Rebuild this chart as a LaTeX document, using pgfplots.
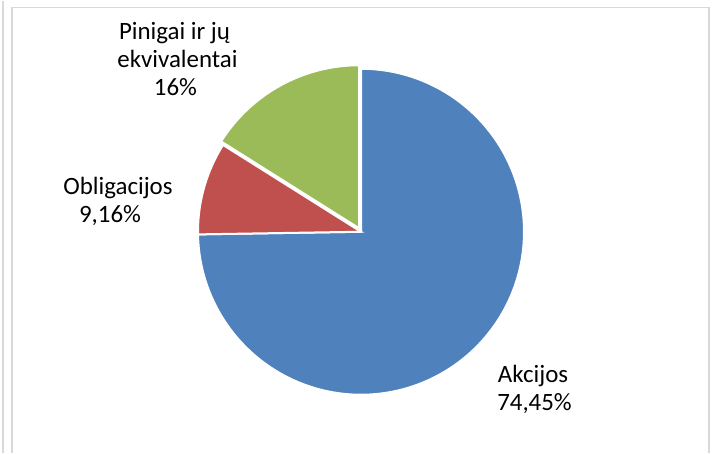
\documentclass[border=0pt]{standalone}
\usepackage{pgfplots}
\pgfplotsset{compat=1.18}
\usepackage{pgfplotstable}
\usepackage{fontspec}
\setmainfont{Carlito}
\definecolor{pieBlue}{HTML}{4F81BD}
\definecolor{pieRed}{HTML}{C0504D}
\definecolor{pieGreen}{HTML}{9BBB59}
\definecolor{frameGray}{HTML}{D9D9D9}

\pgfplotstableread{
label value
Akcijos 74.45
Obligacijos 9.16
Pinigai 16
}\piedata

\pgfplotstablegetelem{0}{value}\of\piedata \let\vA\pgfplotsretval
\pgfplotstablegetelem{1}{value}\of\piedata \let\vB\pgfplotsretval
\pgfplotstablegetelem{2}{value}\of\piedata \let\vC\pgfplotsretval
\pgfmathsetmacro\vT{\vA+\vB+\vC}
% angles (clockwise from 12 o'clock)
\pgfmathsetmacro\aTop{90}
\pgfmathsetmacro\aAB{90-\vA/\vT*360}          % blue/red boundary
\pgfmathsetmacro\aBC{\aAB+360-\vB/\vT*360}    % red/green boundary
\pgfmathsetmacro\aABp{\aAB+360}
\pgfmathsetmacro\cx{361}
\pgfmathsetmacro\cy{221}
\pgfmathsetmacro\R{163}
\pgfmathsetmacro\gmid{(90+\aBC)/2}
\pgfmathsetmacro\gx{\cx+4*cos(\gmid)}
\pgfmathsetmacro\gy{\cy+4*sin(\gmid)}

\begin{document}
\begin{tikzpicture}
\begin{axis}[
  scale only axis, width=712bp, height=452bp,
  xmin=0, xmax=712, ymin=0, ymax=452,
  hide axis, clip=false,
  font=\fontsize{25}{29}\selectfont,
]
\path (axis cs:0,0) rectangle (axis cs:712,452);
% frame
\draw[frameGray, line width=1.5bp] (axis cs:3,452) -- (axis cs:3,0);
\draw[frameGray, line width=1.5bp] (axis cs:12,0) -- (axis cs:12,445) -- (axis cs:709,445) -- (axis cs:709,0);

% Akcijos
\addplot[fill=pieBlue, draw=white, line width=2bp, domain=\aAB:\aTop, samples=181, variable=\t]
  ({\cx+\R*cos(\t)},{\cy+\R*sin(\t)}) -- (axis cs:\cx,\cy) -- cycle;
% Obligacijos
\addplot[fill=pieRed, draw=white, line width=2bp, domain=\aBC:\aABp, samples=40, variable=\t]
  ({\cx+\R*cos(\t)},{\cy+\R*sin(\t)}) -- (axis cs:\cx,\cy) -- cycle;
% Pinigai ir jų ekvivalentai
\addplot[fill=pieGreen, draw=white, line width=2bp, domain=\aTop:\aBC, samples=60, variable=\t]
  ({\gx+\R*cos(\t)},{\gy+\R*sin(\t)}) -- (axis cs:\gx,\gy) -- cycle;

% labels
\node[anchor=base, text=black] at (axis cs:174.5,413) {Pinigai ir jų};
\node[anchor=base, text=black] at (axis cs:177.5,385.5) {ekvivalentai};
\node[anchor=base, text=black] at (axis cs:175.5,357) {16\%};
\node[anchor=base, text=black] at (axis cs:118,258) {Obligacijos};
\node[anchor=base, text=black] at (axis cs:110,230) {9,16\%};
\node[anchor=base, text=black] at (axis cs:533,70) {Akcijos};
\node[anchor=base, text=black] at (axis cs:534.5,42) {74,45\%};
\end{axis}
\end{tikzpicture}
\end{document}
